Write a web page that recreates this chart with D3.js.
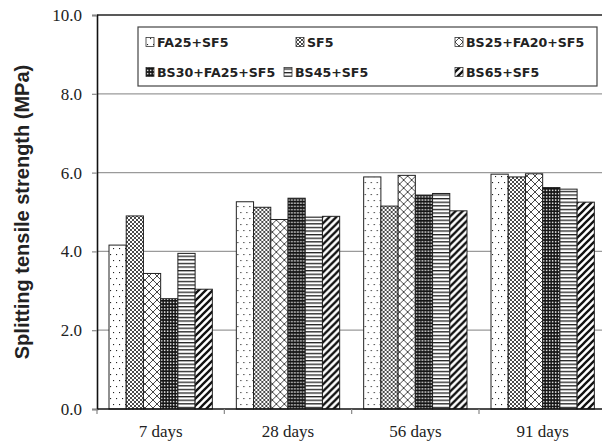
<!DOCTYPE html>
<html><head><meta charset="utf-8">
<script src="https://cdn.jsdelivr.net/npm/d3@7"></script>
<style>body{margin:0;background:#fff}svg{display:block}</style>
</head><body>
<svg id="c" width="602" height="447"></svg>
<script>
const categories = ["7 days", "28 days", "56 days", "91 days"];
const series = ["FA25+SF5", "SF5", "BS25+FA20+SF5", "BS30+FA25+SF5", "BS45+SF5", "BS65+SF5"];
const valFA25SF5   = [4.16, 5.26, 5.89, 5.96];
const valSF5       = [4.90, 5.12, 5.15, 5.89];
const valBS25FA20  = [3.44, 4.81, 5.93, 5.97];
const valBS30FA25  = [2.80, 5.35, 5.43, 5.62];
const valBS45      = [3.95, 4.87, 5.47, 5.58];
const valBS65      = [3.04, 4.89, 5.03, 5.25];
const yTicks = [0, 2, 4, 6, 8, 10];
const yTitle = "Splitting tensile strength (MPa)";

const values = [valFA25SF5, valSF5, valBS25FA20, valBS30FA25, valBS45, valBS65];

const svg = d3.select("#c");
const mLeft = 97, mTop = 15, mBottom = 409;
const step = (479 - 97) / 3;
const x0 = d3.scaleBand().domain(categories).range([mLeft, mLeft + step * 4]).padding(0);
const gap = 12;
const x1 = d3.scaleBand().domain(series).range([gap, x0.bandwidth() - gap]).padding(0);
const y = d3.scaleLinear().domain([0, 10]).range([mBottom, mTop]);

// patterns
const defs = svg.append("defs");
function pat(id, w, h, build) {
  const p = defs.append("pattern").attr("id", id).attr("patternUnits", "userSpaceOnUse")
    .attr("width", w).attr("height", h);
  build(p);
}
pat("p0", 6, 12, p => {
  p.append("rect").attr("width", 6).attr("height", 12).attr("fill", "#fff");
  p.append("rect").attr("x", 1).attr("y", 2).attr("width", 1.1).attr("height", 1.1).attr("fill", "#222");
  p.append("rect").attr("x", 4).attr("y", 8).attr("width", 1.1).attr("height", 1.1).attr("fill", "#222");
});
pat("p1", 4, 4, p => {
  p.append("rect").attr("width", 4).attr("height", 4).attr("fill", "#fff");
  p.append("path").attr("d", "M0,0L4,4M4,0L0,4").attr("stroke", "#4a4a4a").attr("stroke-width", 1);
});
pat("p2", 8, 8, p => {
  p.append("rect").attr("width", 8).attr("height", 8).attr("fill", "#fff");
  p.append("path").attr("d", "M0,0L8,8M8,0L0,8").attr("stroke", "#333").attr("stroke-width", 0.9);
});
pat("p3", 3, 3.2, p => {
  p.append("rect").attr("width", 3).attr("height", 3.2).attr("fill", "#151515");
  p.append("rect").attr("x", 0.9).attr("y", 0.9).attr("width", 1.5).attr("height", 1.5).attr("fill", "#e6e6e6");
});
pat("p4", 4, 3.6, p => {
  p.append("rect").attr("width", 4).attr("height", 3.6).attr("fill", "#fff");
  p.append("rect").attr("y", 0).attr("width", 4).attr("height", 1.3).attr("fill", "#222");
});
pat("p5", 7, 7, p => {
  p.append("rect").attr("width", 7).attr("height", 7).attr("fill", "#fff");
  p.append("path").attr("d", "M0,7L7,0M-1,1L1,-1M6,8L8,6").attr("stroke", "#111").attr("stroke-width", 2.3);
});
const fills = series.map((s, i) => "url(#p" + i + ")");

// gridlines
svg.append("g").selectAll("line").data(yTicks.filter(t => t > 0 && t < 10)).join("line")
  .attr("x1", mLeft).attr("x2", 602).attr("y1", d => y(d)).attr("y2", d => y(d))
  .attr("stroke", "#9a9a9a").attr("stroke-width", 1.3);
// top border
svg.append("line").attr("x1", mLeft).attr("x2", 602).attr("y1", y(10)).attr("y2", y(10))
  .attr("stroke", "#222").attr("stroke-width", 1.6);

// bars
const g = svg.append("g").selectAll("g").data(categories).join("g")
  .attr("transform", d => `translate(${x0(d)},0)`);
g.selectAll("rect").data((c, ci) => series.map((s, si) => ({s, si, v: values[si][ci]}))).join("rect")
  .attr("x", d => x1(d.s)).attr("width", x1.bandwidth())
  .attr("y", d => y(d.v)).attr("height", d => y(0) - y(d.v))
  .attr("fill", d => fills[d.si]).attr("stroke", "#222").attr("stroke-width", 1);

// y axis
const yAxis = d3.axisLeft(y).tickValues(yTicks).tickFormat(d3.format(".1f")).tickSize(5).tickPadding(10);
const ya = svg.append("g").attr("transform", `translate(${mLeft},0)`).call(yAxis);
ya.select(".domain").attr("stroke", "#111").attr("stroke-width", 1.6);
ya.selectAll(".tick line").attr("stroke", "#888").attr("stroke-width", 1.2);
ya.selectAll("text").attr("font-family", "Liberation Serif, Times New Roman, serif")
  .attr("font-size", 17).attr("fill", "#222");

// x axis
const xAxis = d3.axisBottom(x0).tickSize(0).tickPadding(16);
const xa = svg.append("g").attr("transform", `translate(0,${mBottom})`).call(xAxis);
xa.select(".domain").remove();
xa.selectAll("text").attr("font-family", "Liberation Serif, Times New Roman, serif")
  .attr("font-size", 17).attr("fill", "#222");
svg.append("line").attr("x1", mLeft).attr("x2", 602).attr("y1", mBottom).attr("y2", mBottom)
  .attr("stroke", "#111").attr("stroke-width", 1.6);
svg.append("g").selectAll("line").data(categories).join("line")
  .attr("x1", d => x0(d)).attr("x2", d => x0(d)).attr("y1", mBottom).attr("y2", mBottom + 5)
  .attr("stroke", "#888").attr("stroke-width", 1.2);

// y title
svg.append("text").attr("transform", `translate(29,${(mTop + mBottom) / 2}) rotate(-90)`)
  .attr("text-anchor", "middle").attr("font-family", "Liberation Sans, Arial, sans-serif")
  .attr("font-weight", "bold").attr("font-size", 20).attr("fill", "#222").text(yTitle);

// legend
const lg = svg.append("g");
lg.append("rect").attr("x", 138).attr("y", 27).attr("width", 459).attr("height", 59)
  .attr("fill", "#fff").attr("stroke", "#444").attr("stroke-width", 1.2);
const legX = [[146, 296, 455], [146, 284, 455]];
const legY = [42, 72];
const items = lg.selectAll("g").data(series).join("g")
  .attr("transform", (d, i) => `translate(${legX[Math.floor(i / 3)][i % 3]},${legY[Math.floor(i / 3)]})`);
items.append("rect").attr("x", 0).attr("y", -4.5).attr("width", 8).attr("height", 9)
  .attr("fill", (d, i) => fills[i]).attr("stroke", "#333").attr("stroke-width", 0.8);
items.append("text").attr("x", 11).attr("dy", "0.36em")
  .attr("font-family", "DejaVu Sans, sans-serif").attr("font-weight", "bold").attr("font-size", 12.6)
  .attr("fill", "#222").text(d => d);
</script>
</body></html>
